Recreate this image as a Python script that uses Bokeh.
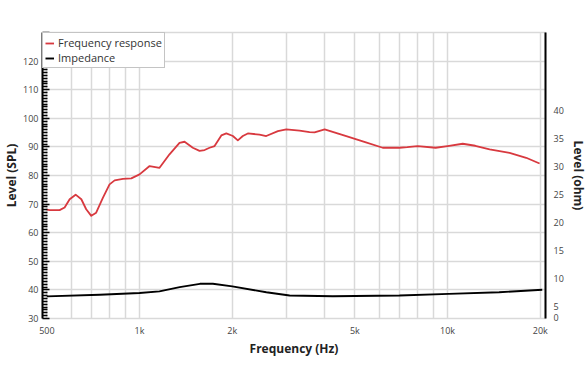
from bokeh.plotting import figure
from bokeh.models import (Range1d, LinearAxis, FixedTicker, Legend, LegendItem)
from bokeh.embed import file_html
from bokeh.resources import INLINE

# ---- data ----
freq_fr = [500, 511, 550, 571, 593, 620, 647, 671, 697, 723, 760, 799, 830, 883,
           940, 1000, 1078, 1161, 1251, 1348, 1400, 1489, 1566, 1626, 1688, 1752,
           1843, 1913, 2009, 2085, 2164, 2247, 2452, 2578, 2813, 2995, 3307, 3565,
           3700, 3990, 4690, 5400, 6160, 6980, 7400, 8000, 9150, 10000, 11200,
           12300, 13700, 15900, 18000, 19900]
spl = [68.1, 67.9, 67.9, 68.8, 71.7, 73.3, 71.7, 68.2, 65.9, 67.0, 72.2, 76.9,
       78.3, 78.8, 79.0, 80.4, 83.3, 82.7, 87.4, 91.4, 91.8, 89.7, 88.6, 88.9,
       89.7, 90.3, 94.0, 94.7, 93.8, 92.3, 93.8, 94.7, 94.3, 93.8, 95.5, 96.1,
       95.7, 95.2, 95.1, 96.1, 93.8, 91.7, 89.7, 89.7, 89.9, 90.3, 89.7, 90.3,
       91.1, 90.4, 89.1, 87.9, 86.2, 84.2]

freq_imp = [500, 742, 1000, 1160, 1350, 1570, 1730, 2000, 2580, 3070, 4240,
            6980, 10100, 14700, 20300]
ohm = [6.8, 7.1, 7.4, 7.7, 8.45, 9.05, 9.05, 8.6, 7.55, 6.96, 6.84,
       6.96, 7.26, 7.55, 7.98]

x_ticks = [500, 600, 700, 800, 900, 1000, 2000, 3000, 4000, 5000, 6000, 7000,
           8000, 9000, 10000, 20000]
x_labels = {500: "500", 1000: "1k", 2000: "2k", 5000: "5k", 10000: "10k", 20000: "20k"}
spl_ticks = [30, 40, 50, 60, 70, 80, 90, 100, 110, 120, 130]
ohm_ticks = [3.0, 5, 10, 15, 20, 25, 30, 35, 40]
ohm_labels = {3.0: "0"}

FONT = "Open Sans"
RED = "#d8393f"
GRID = "#d9d9d9"
TICK_TXT = "#444444"

p = figure(frame_width=503, frame_height=286, x_axis_type="log",
           x_range=Range1d(484, 20800), y_range=Range1d(30, 130),
           output_backend="svg", toolbar_location=None,
           min_border_left=30, min_border_right=30, min_border_top=32,
           min_border_bottom=30)
p.extra_y_ranges = {"ohm": Range1d(2.86, 53.9)}

p.outline_line_color = GRID
p.outline_line_width = 1.5
p.background_fill_color = "white"
p.border_fill_color = "white"

# x axis
xa = p.xaxis[0]
xa.ticker = FixedTicker(ticks=x_ticks)
xa.major_label_overrides = {k: x_labels.get(k, "") for k in x_ticks}
xa.axis_line_color = None
xa.major_tick_line_color = None
xa.minor_tick_line_color = None
xa.major_tick_out = 0
xa.major_tick_in = 0
xa.minor_tick_out = 0
xa.minor_tick_in = 0
xa.major_label_text_font = FONT
xa.major_label_text_font_size = "9px"
xa.major_label_text_color = TICK_TXT
xa.major_label_standoff = 5
xa.axis_label = "Frequency (Hz)"
xa.axis_label_text_font = FONT
xa.axis_label_text_font_size = "12px"
xa.axis_label_text_font_style = "bold"
xa.axis_label_text_color = "#222222"
xa.axis_label_standoff = 0

# left axis
ya = p.yaxis[0]
minor = [v for v in range(30, 131) if v % 10 != 0]
ya.ticker = FixedTicker(ticks=spl_ticks, minor_ticks=minor)
ya.major_label_overrides = {130: ""}
ya.axis_line_color = "black"
ya.axis_line_width = 2
ya.major_tick_in = 7
ya.major_tick_out = 0
ya.minor_tick_in = 5
ya.minor_tick_out = 0
ya.major_tick_line_width = 1.5
ya.minor_tick_line_width = 1.5
ya.major_tick_line_color = "black"
ya.minor_tick_line_color = "black"
ya.major_label_text_font = FONT
ya.major_label_text_font_size = "9px"
ya.major_label_text_color = TICK_TXT
ya.major_label_standoff = 4
ya.axis_label = "Level (SPL)"
ya.axis_label_text_font = FONT
ya.axis_label_text_font_size = "12px"
ya.axis_label_text_font_style = "bold"
ya.axis_label_text_color = "#222222"
ya.axis_label_standoff = 0

# right axis
ra = LinearAxis(y_range_name="ohm", ticker=FixedTicker(ticks=ohm_ticks),
                major_label_overrides=ohm_labels)
ra.axis_line_color = "black"
ra.axis_line_width = 2
ra.major_tick_line_color = None
ra.minor_tick_line_color = None
ra.major_tick_out = 0
ra.major_tick_in = 0
ra.minor_tick_out = 0
ra.minor_tick_in = 0
ra.major_label_text_font = FONT
ra.major_label_text_font_size = "9px"
ra.major_label_text_color = TICK_TXT
ra.major_label_standoff = 8
ra.axis_label = "Level (ohm)"
ra.axis_label_text_font = FONT
ra.axis_label_text_font_size = "12px"
ra.axis_label_text_font_style = "bold"
ra.axis_label_text_color = "#222222"
ra.axis_label_standoff = 3
p.add_layout(ra, "right")

p.xgrid.ticker = FixedTicker(ticks=x_ticks)
p.xgrid.grid_line_color = GRID
p.xgrid.grid_line_width = 1.5
p.ygrid.ticker = FixedTicker(ticks=spl_ticks)
p.ygrid.grid_line_color = GRID
p.ygrid.grid_line_width = 1.5

r_fr = p.line(freq_fr, spl, line_color=RED, line_width=1.8, line_join="round")
r_imp = p.line(freq_imp, ohm, line_color="black", line_width=1.9,
               y_range_name="ohm", line_join="round")

legend = Legend(items=[LegendItem(label="Frequency response", renderers=[r_fr]),
                       LegendItem(label="Impedance", renderers=[r_imp])],
                location="top_left")
legend.label_text_font = FONT
legend.label_text_font_size = "11px"
legend.label_text_color = "#333333"
legend.border_line_color = "#8a8a8a"
legend.border_line_width = 1
legend.background_fill_color = "white"
legend.background_fill_alpha = 1
legend.glyph_width = 9
legend.glyph_height = 10
legend.label_standoff = 4
legend.label_height = 10
legend.padding = 2
legend.spacing = 0
legend.margin = 0
p.add_layout(legend, "center")

open("out.html", "w").write(file_html(p, INLINE))
